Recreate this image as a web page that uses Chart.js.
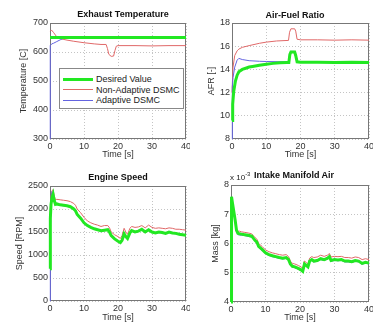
<!DOCTYPE html>
<html><head><meta charset="utf-8">
<script src="https://cdn.jsdelivr.net/npm/chart.js@4.4.0/dist/chart.umd.min.js"></script>
<style>
body{margin:0;background:#fff;width:373px;height:323px;overflow:hidden;position:relative;font-family:"Liberation Sans",Arial,sans-serif}
.pn{position:absolute}
.ttl{position:absolute;font:bold 9px "Liberation Sans Narrow","Liberation Sans",sans-serif;color:#111;transform:translate(-50%,-50%);white-space:nowrap}
.exp{position:absolute;left:230px;top:171px;font-size:8px;color:#222;white-space:nowrap}
.exp sup{font-size:6px;vertical-align:4px}
.lg{position:absolute;left:59px;top:68px;width:123px;height:39px;border:1px solid #888;background:#fff;font-size:9px;color:#222}
.lg div{position:absolute;left:36px;white-space:nowrap;transform:translateY(-50%)}
.lg span{position:absolute;left:3px;width:30px}
</style>
</head><body>
<div class="pn" style="left:0;top:0"><canvas id="c1" width="190" height="160"></canvas></div>
<div class="pn" style="left:185px;top:0"><canvas id="c2" width="188" height="160"></canvas></div>
<div class="pn" style="left:0;top:160px"><canvas id="c3" width="190" height="163"></canvas></div>
<div class="pn" style="left:185px;top:160px"><canvas id="c4" width="188" height="163"></canvas></div>
<div class="ttl" style="left:123px;top:14px">Exhaust Temperature</div>
<div class="ttl" style="left:295px;top:15px">Air-Fuel Ratio</div>
<div class="ttl" style="left:118px;top:177px">Engine Speed</div>
<div class="ttl" style="left:294px;top:175px">Intake Manifold Air</div>
<div class="exp">x 10<sup>-3</sup></div>
<div class="lg">
  <span style="top:9px;height:3px;background:#22e822"></span><div style="top:10px">Desired Value</div>
  <span style="top:20px;height:1px;background:#e06868"></span><div style="top:20.5px">Non-Adaptive DSMC</div>
  <span style="top:31px;height:1px;background:#6464e0"></span><div style="top:31px">Adaptive DSMC</div>
</div>
<script>
// colours
const GREEN='#22e822', RED='#e06868', BLUE='#6464e0';
const FONT={family:'"Liberation Sans", Arial, sans-serif',size:9};

// Exhaust temperature
const tempDesT=[0,40];
const tempDes=[650,650];
const tempRedT=[0.1,0.4,1,2,3,5,7,10,13,15,16.5,16.9,17.3,18,18.7,19.1,19.5,20,25,30,35,40];
const tempRed=[672,676,668,652,646,641,637,632,628,626,626,612,592,585,586,605,620,622,622,621,622,622];
const tempBlueT=[0,0.05,0.1,0.5,1,2,3,4,5,40];
const tempBlue=[300,515,622,628,630,636,642,647,650,650];

// Air-fuel ratio
const afrDesT=[0,0.2,0.5,1,1.5,2,3,4,5,6,8,10,12,14,16,16.6,16.9,17.2,18.3,18.6,19,20,25,30,35,40];
const afrDes=[9.6,11,12.1,13,13.5,13.8,14,14.1,14.2,14.25,14.35,14.45,14.52,14.58,14.6,14.6,15.3,15.5,15.5,15.2,14.65,14.62,14.62,14.6,14.62,14.6];
const afrBlueT=[0,0.1,0.3,0.8,1.5,2,3,5,8,10,14,16.5,16.8,17.2,18.3,18.7,19.1,20,25,30,40];
const afrBlue=[8,12.5,13.3,14.2,14.8,14.95,14.85,14.75,14.7,14.68,14.66,14.65,15.3,15.55,15.55,15.2,14.65,14.6,14.62,14.6,14.6];
const afrRedT=[0,0.3,0.8,1.5,2,3,5,8,10,13,16.5,16.8,17.2,18.3,18.6,19,20,25,30,35,40];
const afrRed=[12,14.2,15.2,15.6,15.75,15.9,16.05,16.25,16.35,16.45,16.5,17.2,17.5,17.5,17.3,16.6,16.55,16.55,16.52,16.55,16.52];

// Engine speed
const spdT=[0,0.1,0.3,0.6,0.9,1.2,1.6,2,3,4,5,6,7,7.5,8,9,10,11,12,13,14,15,16,17,17.5,18,19,20,20.7,21.2,21.8,22.3,22.8,23.5,24,25,26,27,28,29,30,31,32,33,34,35,36,37,38,39,40];
const spdDes=[700,1800,2100,2250,2320,2200,2100,2110,2090,2080,2070,2050,2000,1960,1880,1800,1700,1640,1600,1570,1550,1530,1540,1550,1500,1420,1350,1300,1270,1320,1460,1400,1360,1480,1530,1500,1520,1560,1500,1550,1500,1480,1500,1490,1470,1500,1480,1470,1450,1440,1430];
const spdRed=[1400,1950,2250,2400,2420,2300,2200,2210,2200,2190,2180,2160,2120,2080,2000,1920,1820,1740,1700,1670,1650,1620,1640,1640,1590,1500,1440,1400,1360,1420,1580,1500,1450,1580,1620,1600,1610,1640,1590,1650,1600,1580,1590,1580,1570,1590,1580,1560,1560,1550,1540];
const spdBlue=[0,1500,2200,2380,2350,2180,2090,2100,2080,2070,2060,2040,1990,1950,1870,1790,1690,1630,1590,1560,1540,1520,1530,1540,1490,1410,1340,1290,1260,1310,1450,1390,1350,1470,1520,1490,1510,1550,1490,1540,1490,1470,1490,1480,1460,1490,1470,1460,1440,1430,1420];

// Intake manifold air mass (x 10^-3 kg)
const masT=[0,0.15,0.4,0.8,1.2,1.6,2,2.5,3,4,5,6,7,7.5,8,9,10,11,12,13,14,15,16,16.7,17.2,17.8,18.5,19.5,20.3,20.8,21.3,21.8,22.3,22.8,23.4,24,25,26,27,28,28.5,29,30,31,32,33,34,35,36,37,38,39,40];
const masDes=[4,7.6,7.4,7.1,6.8,6.45,6.35,6.33,6.32,6.3,6.28,6.25,6.1,6.05,5.9,5.8,5.68,5.62,5.58,5.55,5.52,5.5,5.52,5.45,5.3,5.22,5.2,5.15,5.1,5.05,5.3,5.25,5.2,5.4,5.45,5.4,5.42,5.48,5.45,5.5,5.55,5.42,5.45,5.44,5.45,5.4,5.4,5.38,5.42,5.4,5.32,5.36,5.33];
const masRed=[6.6,7.3,7.2,7.0,6.8,6.5,6.42,6.42,6.4,6.38,6.36,6.33,6.2,6.15,6.0,5.9,5.78,5.72,5.68,5.65,5.62,5.6,5.62,5.55,5.4,5.32,5.3,5.25,5.2,5.15,5.4,5.35,5.3,5.5,5.55,5.52,5.54,5.6,5.56,5.6,5.66,5.54,5.56,5.55,5.56,5.52,5.52,5.5,5.54,5.52,5.45,5.48,5.45];
const masBlue=[5.7,7.3,7.3,7.05,6.75,6.4,6.3,6.29,6.28,6.27,6.24,6.22,6.07,6.02,5.87,5.77,5.65,5.59,5.55,5.52,5.49,5.47,5.49,5.42,5.27,5.19,5.17,5.12,5.07,5.02,5.27,5.22,5.17,5.37,5.42,5.37,5.39,5.45,5.42,5.47,5.52,5.39,5.42,5.41,5.42,5.37,5.37,5.35,5.39,5.37,5.29,5.33,5.3];

const pts=(t,v)=>t.map((x,i)=>({x,y:v[i]}));
const line=(t,v,c,w)=>({data:pts(t,v),borderColor:c,borderWidth:w,pointRadius:0,tension:0,clip:false});

// box around the axes
const frame={id:'frame',beforeDatasetsDraw(c){
  const a=c.chartArea,x=c.ctx;
  x.save();x.strokeStyle='#777';x.lineWidth=1;
  x.strokeRect(Math.round(a.left)+0.5,Math.round(a.top)+0.5,Math.round(a.right-a.left)-1,Math.round(a.bottom-a.top)-1);
  x.restore();
}};

function mk(id,sets,o){
  new Chart(document.getElementById(id),{
    type:'line',
    data:{datasets:sets},
    options:{
      responsive:false,animation:false,
      layout:{padding:{left:o.L,right:4,top:o.T,bottom:0}},
      plugins:{legend:{display:false},tooltip:{enabled:false}},
      scales:{
        x:{type:'linear',min:0,max:40,
          ticks:{stepSize:10,padding:2,font:FONT,color:'#333',maxRotation:0,callback:v=>String(v)},
          grid:{color:'#c4c4c4',drawTicks:false},border:{display:false,dash:[1,2]},
          title:{display:true,text:'Time [s]',font:FONT,color:'#333',padding:0},
          afterFit:s=>{s.height=o.xH;s.paddingLeft=0;s.paddingRight=0;}},
        y:{min:o.min,max:o.max,
          ticks:{stepSize:o.step,padding:2,font:FONT,color:'#333',callback:v=>String(v)},
          grid:{color:'#c4c4c4',drawTicks:false},border:{display:false,dash:[1,2]},
          title:{display:true,text:o.yt,font:FONT,color:'#333',padding:0},
          afterFit:s=>{s.width=o.yW;s.paddingTop=0;s.paddingBottom=0;}}
      }
    },
    plugins:[frame]
  });
}

mk('c1',[line(tempDesT,tempDes,GREEN,3),line(tempBlueT,tempBlue,BLUE,1),line(tempRedT,tempRed,RED,1)],
  {L:18,T:23,yW:32,xH:21,min:300,max:700,step:100,yt:'Temperature [C]'});
mk('c2',[line(afrDesT,afrDes,GREEN,3),line(afrBlueT,afrBlue,BLUE,1),line(afrRedT,afrRed,RED,1)],
  {L:21,T:23,yW:26,xH:21,min:8,max:18,step:2,yt:'AFR [-]'});
mk('c3',[line(spdT,spdDes,GREEN,3),line(spdT,spdBlue,BLUE,1),line(spdT,spdRed,RED,1)],
  {L:14,T:26,yW:36,xH:22,min:0,max:2500,step:500,yt:'Speed [RPM]'});
mk('c4',[line(masT,masDes,GREEN,3),line(masT,masBlue,BLUE,1),line(masT,masRed,RED,1)],
  {L:25,T:25,yW:21,xH:21,min:4,max:8,step:1,yt:'Mass [kg]'});
</script>
</body></html>
